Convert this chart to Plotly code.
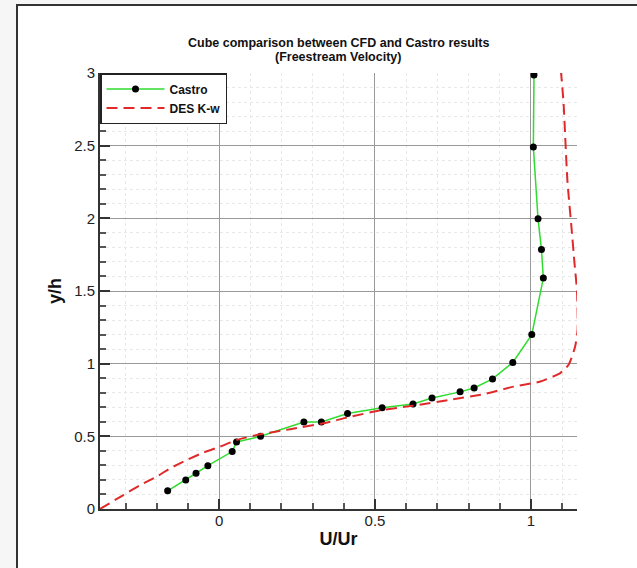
import plotly.graph_objects as go

# Castro experimental data
castro_u = [-0.165, -0.107, -0.074, -0.036, 0.042, 0.056, 0.133, 0.272, 0.328, 0.412,
            0.523, 0.622, 0.683, 0.773, 0.818, 0.877, 0.942, 1.003, 1.04, 1.034,
            1.023, 1.008, 1.01]
castro_y = [0.125, 0.2, 0.246, 0.298, 0.395, 0.461, 0.5, 0.599, 0.599, 0.657,
            0.696, 0.723, 0.764, 0.806, 0.833, 0.895, 1.008, 1.2, 1.589, 1.786,
            1.997, 2.49, 2.987]

# DES K-w CFD profile
des_u = [-0.382, -0.307, -0.253, -0.2, -0.157, -0.104, -0.05, 0.003, 0.057, 0.132,
         0.228, 0.335, 0.41, 0.52, 0.62, 0.75, 0.848, 0.944, 1.03, 1.094,
         1.121, 1.142, 1.15, 1.148, 1.14, 1.131, 1.117, 1.105, 1.097]
des_y = [0.0, 0.096, 0.165, 0.223, 0.28, 0.337, 0.388, 0.429, 0.475, 0.514,
         0.549, 0.59, 0.629, 0.68, 0.71, 0.755, 0.79, 0.842, 0.877, 0.935,
         0.992, 1.118, 1.233, 1.5, 1.69, 1.92, 2.266, 2.79, 3.0]

x_ticks = [0, 0.5, 1]
x_labels = ["0", "0.5", "1"]
y_ticks = [0, 0.5, 1, 1.5, 2, 2.5, 3]
y_labels = ["0", "0.5", "1", "1.5", "2", "2.5", "3"]
title_lines = ["Cube comparison between CFD and Castro results", "(Freestream Velocity)"]

FONT = "Liberation Sans, Arial, sans-serif"

fig = go.Figure()
fig.add_trace(go.Scatter(
    x=castro_u, y=castro_y, mode="lines+markers", name="Castro",
    line=dict(color="#2fdc2f", width=1.5),
    marker=dict(color="black", size=7),
))
fig.add_trace(go.Scatter(
    x=des_u, y=des_y, mode="lines", name="DES K-w",
    line=dict(color="#e02a2a", width=2, dash="11px,6px", shape="spline", smoothing=0.6),
))

L, R, T, B = 100, 60, 73, 59
PW = 637 - L - R
PH = 568 - T - B

def px_x(p):
    return (p - L) / PW

def px_y(p):
    return (568 - B - p) / PH

annotations = []
for i, line in enumerate(title_lines):
    annotations.append(dict(
        text="<b>" + line + "</b>", xref="paper", yref="paper",
        x=px_x(338), y=px_y(43 + 14 * i), xanchor="center", yanchor="middle",
        showarrow=False, font=dict(size=12.5, color="#111", family=FONT),
    ))

fig.update_layout(
    width=637, height=568,
    margin=dict(l=L, r=R, t=T, b=B),
    paper_bgcolor="#f6f6f6",
    plot_bgcolor="white",
    font=dict(family=FONT, color="#222"),
    annotations=annotations,
    showlegend=True,
    legend=dict(
        x=0, y=1, xanchor="left", yanchor="top",
        bgcolor="white", bordercolor="#222", borderwidth=1.5,
        font=dict(size=12, color="#111", family=FONT, weight="bold"),
        itemwidth=58,
        tracegroupgap=0,
    ),
    shapes=[
        dict(type="rect", xref="paper", yref="paper", layer="below",
             x0=px_x(17), x1=px_x(700), y0=px_y(5), y1=px_y(650),
             fillcolor="white", line=dict(color="#333", width=2)),
    ],
)

fig.update_xaxes(
    range=[-0.382, 1.148],
    tickvals=x_ticks, ticktext=x_labels,
    tickfont=dict(size=15, color="#222"),
    ticks="inside", ticklen=10, tickwidth=1.5, tickcolor="#333",
    ticklabelstandoff=-3,
    showline=True, linecolor="#333", linewidth=2,
    showgrid=True, gridcolor="#999", gridwidth=1,
    zeroline=False,
    minor=dict(dtick=0.1, tick0=0, ticks="inside", ticklen=6, tickcolor="#555",
               showgrid=True, gridcolor="#e8e8e8", griddash="dot", gridwidth=1),
    title=dict(text="<b>U/Ur</b>", font=dict(size=18, color="#111"), standoff=4),
)
fig.update_yaxes(
    range=[0, 3],
    tickvals=y_ticks, ticktext=y_labels,
    tickfont=dict(size=15, color="#222"),
    ticks="inside", ticklen=10, tickwidth=1.5, tickcolor="#333",
    showline=True, linecolor="#333", linewidth=2,
    showgrid=True, gridcolor="#999", gridwidth=1,
    zeroline=False,
    minor=dict(dtick=0.1, tick0=0, ticks="inside", ticklen=6, tickcolor="#555",
               showgrid=True, gridcolor="#e8e8e8", griddash="dot", gridwidth=1),
    title=dict(text="<b>y/h</b>", font=dict(size=18, color="#111"), standoff=8),
)

fig.write_html("out.html")
